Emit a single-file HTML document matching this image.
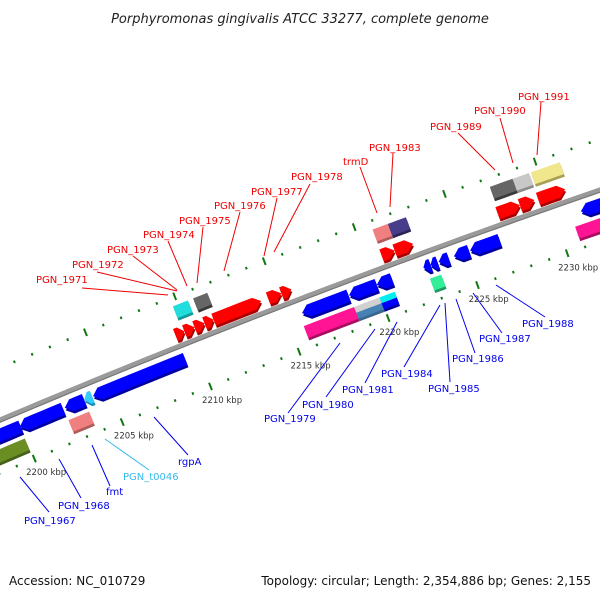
<!DOCTYPE html>
<html><head><meta charset="utf-8"><style>
html,body{margin:0;padding:0;background:#fff;}
svg{display:block;font-family:"DejaVu Sans","Liberation Sans",sans-serif;}
</style></head><body>
<svg id="chart" width="600" height="600" viewBox="0 0 600 600" xmlns="http://www.w3.org/2000/svg">
<rect width="600" height="600" fill="#fff"/>
<text x="300" y="23" text-anchor="middle" font-size="13" font-style="italic" fill="#222">Porphyromonas gingivalis ATCC 33277, complete genome</text>
<g id="tracks"></g>
<g id="backbone"></g>
<g id="genes"></g>
<g id="labels"></g>
<text x="9" y="585" font-size="12" fill="#111">Accession: NC_010729</text>
<text x="591" y="585" font-size="12" text-anchor="end" fill="#111">Topology: circular; Length: 2,354,886 bp; Genes: 2,155</text>
</svg>
<script>
// ---- data ----
var geneStart  = [2197.5,2199.95,2202.5,2203.6,2204.1,2215.87,2218.5,2220.05,2222.65,2223.05,2223.5,2224.35,2225.25,2231.4,
                  2196.0,2202.43,2215.71,2218.53,2219.95,2222.77,2230.85,
                  2209.29,2209.8,2210.37,2210.93,2211.44,2214.49,2215.23,2220.82,2221.55,2227.26,2228.5,2229.5,
                  2209.72,2210.85,2220.85,2221.7,2227.34,2228.6,2229.6];
var geneEnd    = [2200.0,2202.4,2203.6,2204.05,2209.3,2218.47,2220.05,2220.9,2223.05,2223.44,2224.06,2225.19,2226.89,2237,
                  2199.95,2203.6,2218.53,2219.95,2220.8,2223.4,2237,
                  2209.8,2210.37,2210.93,2211.44,2214.1,2215.23,2215.79,2221.55,2222.57,2228.5,2229.3,2231.0,
                  2210.56,2211.64,2221.7,2222.7,2228.6,2229.5,2231.2];
var geneRow    = [-1,-1,-1,-1,-1,-1,-1,-1,-1,-1,-1,-1,-1,-1,
                  -2,-2,-2,-2,-2,-2,-2,
                  1,1,1,1,1,1,1,1,1,1,1,1,
                  2,2,2,2,2,2,2];
var geneStrand = [-1,-1,-1,-1,-1,-1,-1,-1,-1,-1,-1,-1,-1,-1,
                  0,0,0,0,0,0,0,
                  1,1,1,1,1,1,1,1,1,1,1,1,
                  0,0,0,0,0,0,0];
var geneType   = ["cds","cds","cds","trna","cds","cds","cds","cds","cds","cds","cds","cds","cds","cds",
                  "olive","salmon","pink","split1","split2","mint","pink",
                  "fwd","fwd","fwd","fwd","fwd","fwd","fwd","fwd","fwd","fwd","fwd","fwd",
                  "cyan","dgray","salmon","navy","dgray","lgray","khaki"];
var tickKbp    = [2200,2205,2210,2215,2220,2225,2230];
var tickLabels = ["2200 kbp","2205 kbp","2210 kbp","2215 kbp","2220 kbp","2225 kbp","2230 kbp"];

// ---- geometry ----
var CX=3597, CY=8905, K0=2200, TH0=-112.87, DTH=0.119;
var rowR={"2":9249,"1":9228,"-1":9202,"-2":9183};
var HALF=6.3;
var palette={cds:["#0000ff","#0000a0"],trna:["#33ccff","#1a8fb3"],olive:["#6b8e23","#45601a"],
  salmon:["#f08080","#b05a5a"],pink:["#ff1493","#a80d60"],mint:["#33ee99","#1e9a63"],
  fwd:["#ff0000","#a80000"],cyan:["#22dddd","#159999"],dgray:["#666666","#3a3a3a"],
  navy:["#483d8b","#2b2456"],lgray:["#c8c8c8","#8c8c8c"],khaki:["#f0e68c","#a89f55"],
  split1:["#c8c8c8","#3a6690"],split2:["#00eeee","#0000a0"]};
var splitTop={split1:"#d0d0d0",split2:"#00eeee"};
var splitBot={split1:"#4682b4",split2:"#0000ff"};
function pt(k,r){var t=(TH0+(k-K0)*DTH)*Math.PI/180;return [CX+r*Math.cos(t),CY+r*Math.sin(t)];}
function P(q){return q[0].toFixed(2)+","+q[1].toFixed(2);}
var NS="http://www.w3.org/2000/svg";
function mk(tag,parent,attrs){var e=document.createElementNS(NS,tag);for(var key in attrs)e.setAttribute(key,attrs[key]);parent.appendChild(e);return e;}

// backbone
var bb=document.getElementById("backbone");
var pts=[];for(var k=2194;k<=2238;k+=0.5)pts.push(P(pt(k,9216)));
var l1=mk("polyline",bb,{points:pts.join(" "),fill:"none",stroke:"#9a9a9a","stroke-width":5});


pts=[];for(var k=2194;k<=2238;k+=0.5)pts.push(P(pt(k,9213.8)));
var l2=mk("polyline",bb,{points:pts.join(" "),fill:"none",stroke:"#777","stroke-width":1.2});



// tick tracks
var tr=document.getElementById("tracks");
[9264,9167].forEach(function(R){
  for(var kk=2194;kk<=2238;kk++){
    var big=(kk%5===0), h=big?4:1.3;
    var p1=pt(kk,R-h),p2=pt(kk,R+h);
    var tk=mk("line",tr,{x1:p1[0],y1:p1[1],x2:p2[0],y2:p2[1],stroke:"#117711","stroke-width":2});
    
    
  }
});
for(var ti=0;ti<tickKbp.length;ti++){
  var tp=pt(tickKbp[ti]+0.3,9150);
  var tl=mk("text",tr,{x:tp[0],y:tp[1]+3,"text-anchor":"middle","font-size":"8.5",fill:"#333"});
  tl.textContent=tickLabels[ti];
  
  
}

// genes
var gg=document.getElementById("genes");
function shape(s,e,r,strand,h){
  var len=e-s, hl=Math.min(0.38,len*0.6), o=[],inn=[],j,kq,bs;
  if(strand===1){
    bs=e-hl;
    for(j=0;j<=4;j++){kq=s+(bs-s)*j/4;o.push(pt(kq,r+h));inn.unshift(pt(kq,r-h));}
    o.push(pt(e,r));
  } else if(strand===-1){
    bs=s+hl;
    o.push(pt(s,r));
    for(j=0;j<=4;j++){kq=bs+(e-bs)*j/4;o.push(pt(kq,r+h));inn.unshift(pt(kq,r-h));}
  } else {
    for(j=0;j<=4;j++){kq=s+(e-s)*j/4;o.push(pt(kq,r+h));inn.unshift(pt(kq,r-h));}
  }
  return o.concat(inn).map(P).join(" ");
}
for(var gi=0;gi<geneStart.length;gi++){
  var rr=rowR[String(geneRow[gi])], c=palette[geneType[gi]];
  var g=mk("g",gg,{});
  
  
  var sh=mk("polygon",g,{points:shape(geneStart[gi],geneEnd[gi],rr,geneStrand[gi],HALF),fill:c[1],transform:"translate(1,2.5)"});
  
  
  if(splitTop[geneType[gi]]){
    var ta=mk("polygon",g,{points:shape(geneStart[gi],geneEnd[gi],rr+HALF/2,0,HALF/2),fill:splitTop[geneType[gi]]});
    
    
    var tb=mk("polygon",g,{points:shape(geneStart[gi],geneEnd[gi],rr-HALF/2,0,HALF/2),fill:splitBot[geneType[gi]]});
    
    
  } else {
    var m=mk("polygon",g,{points:shape(geneStart[gi],geneEnd[gi],rr,geneStrand[gi],HALF),fill:c[0]});
    
    
  }
}

// labels (text position, leader from, leader to, colour)
var lab=[
 ["PGN_1971",36,283,82,288,168,295,"#ee0000"],["PGN_1972",72,268,97,272,177,291,"#ee0000"],
 ["PGN_1973",107,253,133,256,177,290,"#ee0000"],["PGN_1974",143,238,168,241,187,286,"#ee0000"],
 ["PGN_1975",179,224,203,227,197,283,"#ee0000"],["PGN_1976",214,209,240,212,224,271,"#ee0000"],
 ["PGN_1977",251,195,277,198,264,256,"#ee0000"],["PGN_1978",291,180,310,184,274,252,"#ee0000"],
 ["trmD",343,165,360,167,377,213,"#ee0000"],["PGN_1983",369,151,393,153,390,207,"#ee0000"],
 ["PGN_1989",430,130,458,133,495,170,"#ee0000"],["PGN_1990",474,114,500,118,513,163,"#ee0000"],
 ["PGN_1991",518,100,541,102,537,155,"#ee0000"],
 ["PGN_1967",24,524,49,512,20,477,"#0000ee"],["PGN_1968",58,509,81,498,59,459,"#0000ee"],
 ["fmt",106,495,110,486,92,445,"#0000ee"],["PGN_t0046",123,480,149,470,105,439,"#33bbee"],
 ["rgpA",178,465,188,455,154,417,"#0000ee"],
 ["PGN_1979",264,422,288,413,340,343,"#0000ee"],["PGN_1980",302,408,326,397,375,329,"#0000ee"],
 ["PGN_1981",342,393,365,383,397,322,"#0000ee"],["PGN_1984",381,377,404,367,440,305,"#0000ee"],
 ["PGN_1985",428,392,450,382,445,303,"#0000ee"],["PGN_1986",452,362,475,353,456,299,"#0000ee"],
 ["PGN_1987",479,342,502,333,473,293,"#0000ee"],["PGN_1988",522,327,545,317,496,285,"#0000ee"]];
var lg=document.getElementById("labels");
lab.forEach(function(d){
  var ln=mk("line",lg,{x1:d[3],y1:d[4],x2:d[5],y2:d[6],stroke:d[7],"stroke-width":1});
  
  
  var t=mk("text",lg,{x:d[1],y:d[2],"font-size":"10",fill:d[7]});
  t.textContent=d[0];
  
  
});
</script>
</body></html>
